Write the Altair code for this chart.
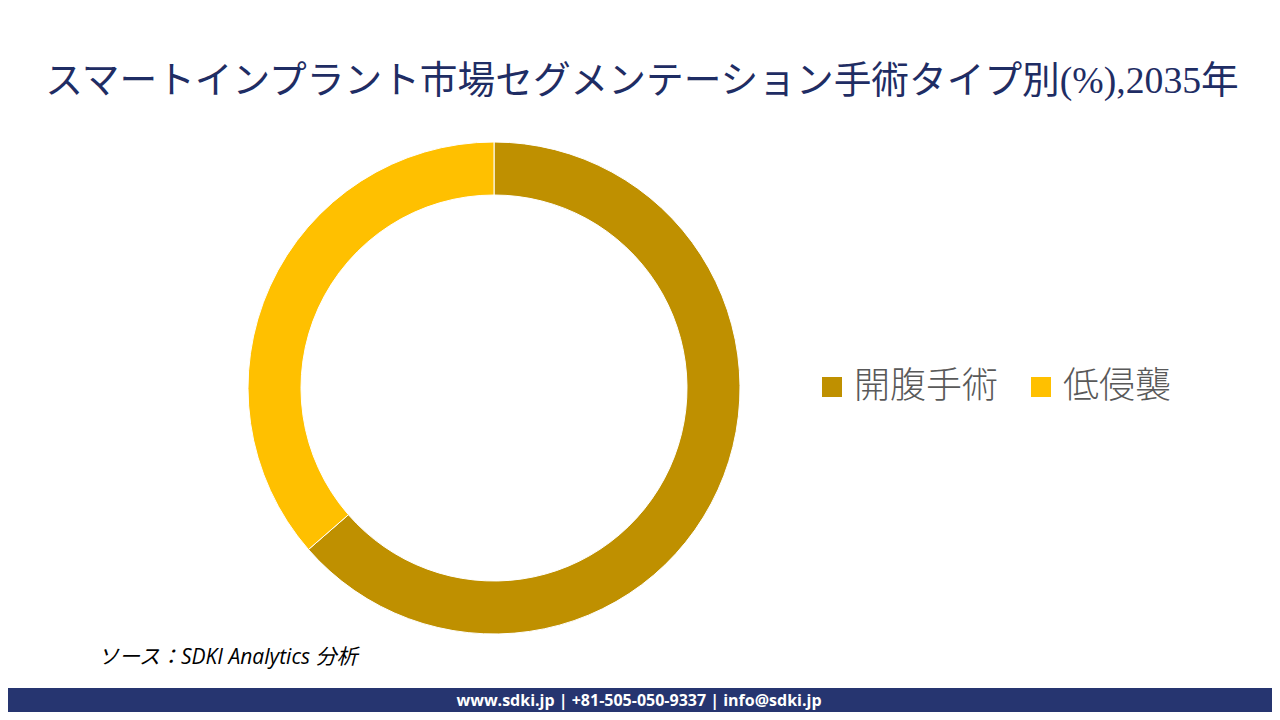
import altair as alt
import pandas as pd

categories = ["開腹手術", "低侵襲"]
shares = [63.6, 36.4]
colors = ["#BF9000", "#FFC000"]
title_text = ["スマートインプラント市場セグメンテーション手術タイプ別(%),2035年"]
source_text = ["ソース：SDKI Analytics  分析"]
footer_text = ["www.sdki.jp | +81-505-050-9337 | info@sdki.jp"]

W, H = 1264, 704

df = pd.DataFrame({"segment": categories, "share": shares, "order": list(range(len(categories)))})

donut = alt.Chart(df).mark_arc(radius=246, radius2=193, stroke="white", strokeWidth=1).encode(
    theta=alt.Theta("share:Q", stack=True),
    order=alt.Order("order:Q"),
    color=alt.Color(
        "segment:N",
        scale=alt.Scale(domain=categories, range=colors),
        legend=alt.Legend(
            title=None,
            orient="none",
            legendX=806,
            legendY=361,
            direction="horizontal",
            symbolType="square",
            symbolSize=400,
            symbolStrokeWidth=0,
            labelFontSize=36,
            labelFontWeight=300,
            labelColor="#595959",
            labelFont="Noto Sans CJK JP",
            labelOffset=4,
            columnPadding=24,
            labelLimit=400,
        ),
    ),
    x=alt.value(486),
    y=alt.value(380),
)

title = alt.Chart(pd.DataFrame({"t": title_text})).mark_text(
    font="'Liberation Serif', 'Noto Sans CJK JP'",
    fontSize=37.7,
    color="#1F2D64",
    align="center",
    baseline="middle",
).encode(text="t:N", x=alt.value(634), y=alt.value(74))

source = alt.Chart(pd.DataFrame({"t": source_text})).mark_text(
    font="'Open Sans', 'Noto Sans CJK JP'",
    fontSize=21,
    fontStyle="italic",
    color="#000000",
    align="left",
    baseline="middle",
).encode(text="t:N", x=alt.value(90), y=alt.value(650))

footer_bar = alt.Chart(pd.DataFrame({"t": footer_text})).mark_rect(color="#263570").encode(
    x=alt.value(0), x2=alt.value(W), y=alt.value(680), y2=alt.value(H)
)

footer = alt.Chart(pd.DataFrame({"t": footer_text})).mark_text(
    font="'Open Sans'",
    fontSize=16,
    fontWeight="bold",
    color="#FFFFFF",
    align="center",
    baseline="middle",
).encode(text="t:N", x=alt.value(631), y=alt.value(693))

chart = alt.layer(donut, title, source, footer_bar, footer).properties(
    width=W,
    height=H,
    autosize=alt.AutoSizeParams(type="none"),
    padding=0,
).configure(background="white").configure_view(stroke=None)

chart.save("out.html", embed_options={"renderer": "svg", "actions": False})
